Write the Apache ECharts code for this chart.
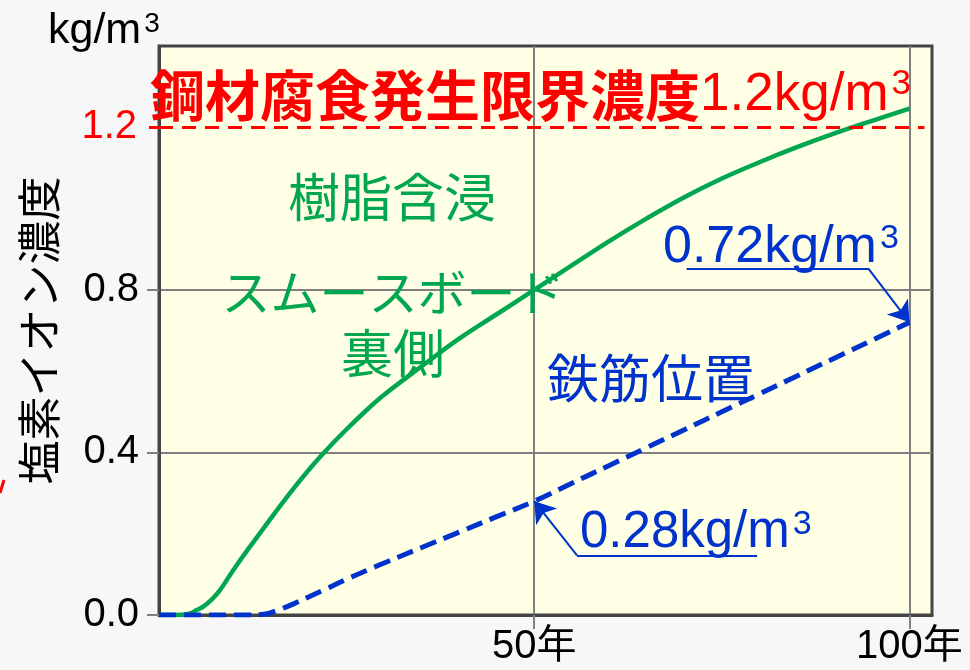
<!DOCTYPE html>
<html>
<head>
<meta charset="utf-8">
<script src="https://cdn.jsdelivr.net/npm/echarts@6/dist/echarts.min.js"></script>
<style>
  html, body { margin: 0; padding: 0; background: #f7f7f7; }
  #chart { width: 970px; height: 670px; }
</style>
</head>
<body>
<div id="chart"></div>
<script>
// Elapsed years
const years = [0, 2, 4, 5, 6, 7, 8, 10, 12, 14, 16, 18, 20, 22, 25, 28, 30, 35, 40, 45, 50, 55, 60, 65, 70, 75, 80, 85, 90, 95, 100];
// Chloride ion concentration behind the resin-impregnated smooth board (kg/m3)
const boardBackSide = [0, 0, 0.003, 0.012, 0.022, 0.038, 0.058, 0.113, 0.165, 0.215, 0.265, 0.313, 0.358, 0.40, 0.457, 0.51, 0.542, 0.612, 0.68, 0.74, 0.80, 0.86, 0.92, 0.976, 1.028, 1.074, 1.114, 1.151, 1.185, 1.216, 1.246];
// Chloride ion concentration at the rebar depth (kg/m3)
const rebarDepth = [0, 0, 0, 0, 0, 0, 0, 0, 0, 0.002, 0.013, 0.028, 0.045, 0.062, 0.088, 0.112, 0.128, 0.166, 0.204, 0.242, 0.28, 0.324, 0.368, 0.412, 0.456, 0.50, 0.544, 0.588, 0.632, 0.676, 0.72];

// Axis ticks
const yTickValues = [0, 0.4, 0.8];
const xTickValues = [50, 100];
// Steel corrosion threshold (kg/m3)
const thresholdValue = 1.2;

// Leader lines for the value call-outs (data coordinates)
const callout072 = { underline: [[70.3, 0.853], [94.5, 0.853]], from: [94.5, 0.853], target: [100, 0.72] };
const callout028 = { underline: [[55.7, 0.147], [79.7, 0.147]], from: [55.7, 0.147], target: [50, 0.28] };

const GREEN = '#00A650';
const BLUE = '#0033CC';
const RED = '#FF0000';
const GRAY = '#808080';
const LATIN = "'Liberation Sans', 'Noto Sans CJK JP', sans-serif";
const CJK = "'Noto Sans CJK JP', 'Liberation Sans', sans-serif";

const greenData = years.map((y, i) => [y, boardBackSide[i]]);
const blueData = years.map((y, i) => [y, rebarDepth[i]]);

function calloutLines(c) {
  return [
    [{ coord: c.underline[0], symbol: 'none' }, { coord: c.underline[1], symbol: 'none' }],
    [{ coord: c.from, symbol: 'none' }, { coord: c.target, symbol: 'arrow' }]
  ];
}

// Unit text with a raised "3"
function unitRich(size, color) {
  return {
    n: { fontSize: size, fill: color, fontFamily: LATIN, lineHeight: size },
    s: { fontSize: Math.round(size * 0.66), fill: color, fontFamily: LATIN, verticalAlign: 'top', lineHeight: size, padding: [0, 0, 0, 3] }
  };
}

const chart = echarts.init(document.getElementById('chart'), null, { renderer: 'canvas' });

chart.setOption({
  backgroundColor: '#f7f7f7',
  animation: false,
  grid: {
    left: 159, top: 46, width: 773, height: 569,
    show: true,
    backgroundColor: '#FFFFE5',
    borderColor: '#444444',
    borderWidth: 3
  },
  xAxis: {
    type: 'value',
    min: 0, max: 103,
    axisLine: { show: true, lineStyle: { color: '#444444', width: 3 } },
    axisTick: { show: true, customValues: xTickValues, length: 14, lineStyle: { color: GRAY, width: 2 } },
    axisLabel: {
      customValues: xTickValues,
      formatter: v => v + '年',
      fontSize: 40, color: '#000', fontFamily: LATIN, margin: 12
    },
    splitLine: { show: true, lineStyle: { color: GRAY, width: 2 } }
  },
  yAxis: [
    {
      type: 'value',
      min: 0, max: 1.4,
      name: '塩素イオン濃度',
      nameLocation: 'middle',
      nameRotate: 90,
      nameGap: 98,
      nameTextStyle: { fontSize: 44, color: '#000', fontFamily: CJK },
      axisLine: { show: true, lineStyle: { color: '#444444', width: 3 } },
      axisTick: { show: true, customValues: yTickValues, length: 12, lineStyle: { color: GRAY, width: 2 } },
      axisLabel: {
        customValues: yTickValues,
        formatter: v => v.toFixed(1),
        fontSize: 40, color: '#000', fontFamily: LATIN, margin: 20
      },
      splitLine: { show: true, lineStyle: { color: GRAY, width: 2 } }
    },
    {
      type: 'value',
      position: 'left',
      min: 0, max: 1.4,
      axisLine: { show: false },
      axisTick: { show: true, customValues: [thresholdValue], length: 15, lineStyle: { color: RED, width: 3, type: [10, 6] } },
      axisLabel: {
        customValues: [thresholdValue],
        formatter: v => v.toFixed(1),
        fontSize: 40, color: RED, fontFamily: LATIN, margin: 22
      },
      splitLine: { show: false }
    }
  ],
  series: [
    {
      name: '樹脂含浸スムースボード裏側',
      type: 'line',
      data: greenData,
      smooth: 0.4,
      showSymbol: false,
      lineStyle: { color: GREEN, width: 4.5 },
      z: 3,
      markLine: {
        silent: true,
        symbol: ['none', 'none'],
        label: { show: false },
        lineStyle: { color: RED, width: 3, type: [14, 9] },
        data: [[{ coord: [0, thresholdValue] }, { coord: [102, thresholdValue] }]]
      }
    },
    {
      name: '鉄筋位置',
      type: 'line',
      data: blueData,
      smooth: 0.4,
      showSymbol: false,
      lineStyle: { color: BLUE, width: 5, type: [17, 8] },
      z: 4,
      markLine: {
        silent: true,
        symbol: ['none', 'arrow'],
        symbolSize: 20,
        label: { show: false },
        lineStyle: { color: BLUE, width: 2, type: 'solid' },
        data: calloutLines(callout072).concat(calloutLines(callout028))
      }
    }
  ],
  graphic: [
    { type: 'text', left: 48, top: 10, style: { text: '{n|kg/m}{s|3}', rich: unitRich(43, '#000') } },
    {
      type: 'text', x: 150, y: 95, z: 10,
      style: {
        text: '{a|鋼材腐食発生限界濃度}{n|1.2kg/m}{s|3}',
        verticalAlign: 'middle',
        rich: Object.assign({ a: { fontSize: 55, fontWeight: 'bold', fill: RED, fontFamily: CJK, lineHeight: 56 } }, unitRich(53, RED))
      }
    },
    { type: 'text', x: 392, y: 197, z: 10, style: { text: '樹脂含浸', fontSize: 52, fill: GREEN, fontFamily: CJK, align: 'center', verticalAlign: 'middle' } },
    { type: 'text', x: 393, y: 292, z: 10, style: { text: 'スムースボード', fontSize: 49, fill: GREEN, fontFamily: CJK, align: 'center', verticalAlign: 'middle' } },
    { type: 'text', x: 393, y: 353, z: 10, style: { text: '裏側', fontSize: 52, fill: GREEN, fontFamily: CJK, align: 'center', verticalAlign: 'middle' } },
    { type: 'text', x: 651, y: 378, z: 10, style: { text: '鉄筋位置', fontSize: 52, fill: BLUE, fontFamily: CJK, align: 'center', verticalAlign: 'middle' } },
    { type: 'text', x: 663, y: 248, z: 10, style: { text: '{n|0.72kg/m}{s|3}', verticalAlign: 'middle', rich: unitRich(52, BLUE) } },
    { type: 'text', x: 580, y: 533, z: 10, style: { text: '{n|0.28kg/m}{s|3}', verticalAlign: 'middle', rich: unitRich(51, BLUE) } },
    { type: 'line', z: 10, shape: { x1: 0, y1: 493, x2: 4, y2: 480 }, style: { stroke: RED, lineWidth: 3 } }
  ]
});
</script>
</body>
</html>
